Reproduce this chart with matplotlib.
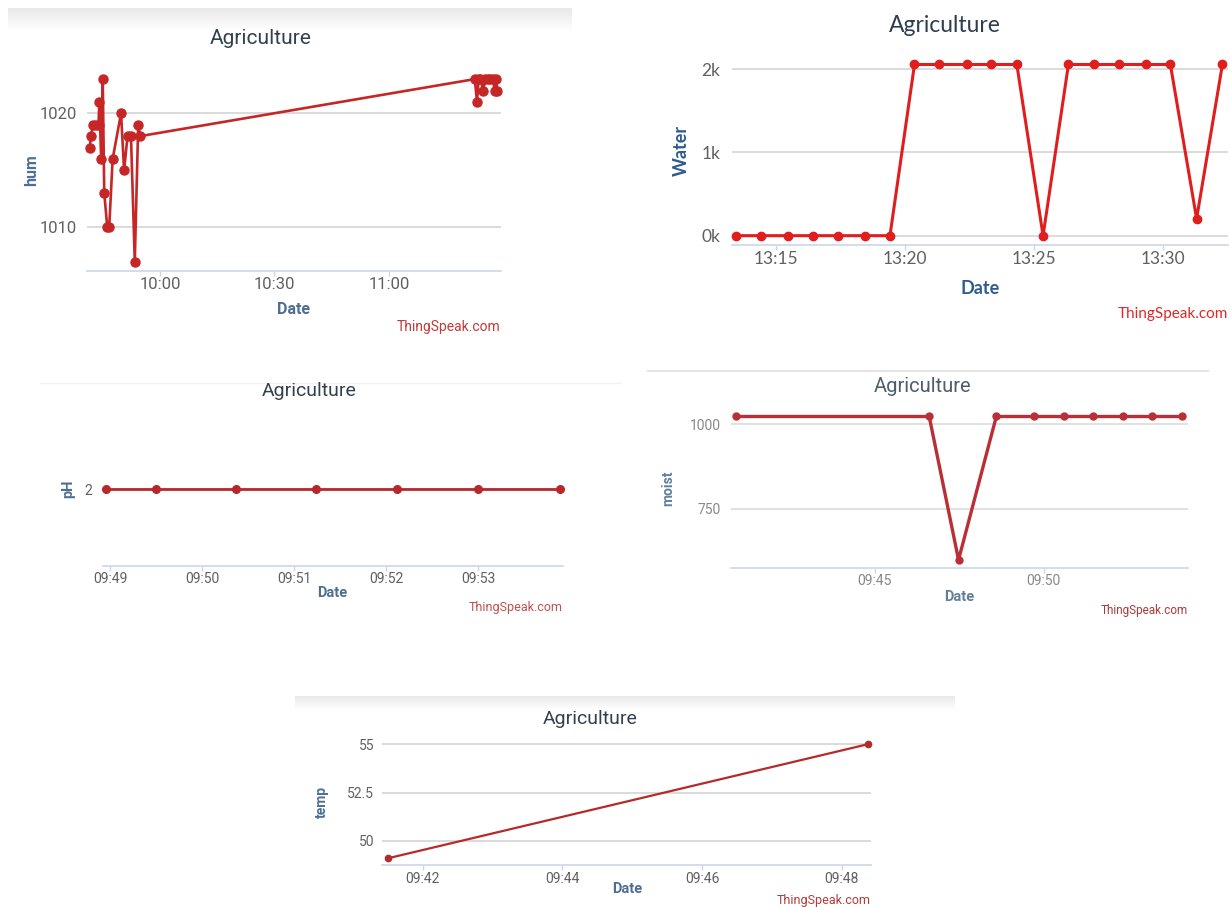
import numpy as np
import matplotlib
matplotlib.use('Agg')
import matplotlib.pyplot as plt
import matplotlib.dates as mdates
from matplotlib.ticker import FuncFormatter

W, H = 1230, 907
DAY = '2020-01-01T'

# panel 1: hum
hum_times = ['09:41:36', '09:41:54', '09:42:30', '09:43:12', '09:43:54', '09:44:06',
             '09:44:36', '09:45:00', '09:45:24', '09:46:12', '09:46:42', '09:47:36',
             '09:49:48', '09:50:36', '09:51:30', '09:52:24', '09:53:24', '09:54:18',
             '09:54:48',
             '11:22:30', '11:23:06', '11:23:30', '11:24:00', '11:24:42', '11:25:18',
             '11:26:00', '11:26:36', '11:27:18', '11:27:42', '11:28:06', '11:28:24']
hum_values = [1017, 1018, 1019, 1019, 1019, 1021, 1016, 1023, 1013, 1010, 1010, 1016,
              1020, 1015, 1018, 1018, 1007, 1019, 1018,
              1023, 1021, 1023, 1023, 1022, 1023, 1023, 1023, 1023, 1022, 1023, 1022]

# panel 2: Water
water_times = ['13:13:27', '13:14:25', '13:15:27', '13:16:26', '13:17:24', '13:18:26',
               '13:19:25', '13:20:22', '13:21:20', '13:22:23', '13:23:21', '13:24:20',
               '13:25:21', '13:26:20', '13:27:20', '13:28:17', '13:29:20', '13:30:17',
               '13:31:18', '13:32:18']
water_values = [0, 0, 0, 0, 0, 0, 0, 2055, 2055, 2055, 2055, 2055,
                0, 2055, 2055, 2055, 2055, 2055, 204, 2055]

# panel 3: pH
ph_times = ['09:48:57', '09:49:30', '09:50:22', '09:51:14', '09:52:07', '09:53:00', '09:53:53']
ph_values = [2, 2, 2, 2, 2, 2, 2]

# panel 4: moist
moist_times = ['09:40:55', '09:46:37', '09:47:29', '09:48:36', '09:49:43', '09:50:36',
               '09:51:28', '09:52:21', '09:53:12', '09:54:05']
moist_values = [1023, 1023, 600, 1023, 1023, 1023, 1023, 1023, 1023, 1023]

# panel 5: temp
temp_times = ['09:41:30', '09:48:22']
temp_values = [49.1, 55.0]


def tt(lst):
    return np.array([DAY + s for s in lst], dtype='datetime64[s]')


fig = plt.figure(figsize=(W / 100, H / 100), dpi=100)
fig.patch.set_facecolor('white')

# card edges / shadows behind the screenshots
bg = fig.add_axes([0, 0, 1, 1], zorder=-10)
bg.set_xlim(0, W)
bg.set_ylim(H, 0)
bg.axis('off')
grad = np.linspace(0.91, 1.0, 40).reshape(-1, 1)
bg.imshow(grad, cmap='gray', vmin=0, vmax=1, extent=[8, 572, 32, 8], aspect='auto')
bg.imshow(grad, cmap='gray', vmin=0, vmax=1, extent=[295, 955, 710, 696], aspect='auto')
bg.plot([40, 620], [383, 383], color='#f2f2f2', lw=1)
bg.plot([648, 1208], [371, 371], color='#e4e4e4', lw=1.5)
bg.set_xlim(0, W)
bg.set_ylim(H, 0)


def box(x0, y0, x1, y1):
    return fig.add_axes([x0 / W, 1 - y1 / H, (x1 - x0) / W, (y1 - y0) / H])


def ftext(x, y, s, **kw):
    fig.text(x / W, 1 - y / H, s, **kw)


def style(ax, font, size, ypad, xpad, tcol='#606060', gcol='#d4d4d4'):
    for s in ['left', 'right', 'top']:
        ax.spines[s].set_visible(False)
    ax.spines['bottom'].set_color('#ccd6eb')
    ax.spines['bottom'].set_linewidth(1.2)
    ax.grid(axis='y', color=gcol, lw=1.2)
    ax.set_axisbelow(True)
    ax.tick_params(axis='y', length=0, pad=ypad, labelsize=size, labelcolor=tcol,
                   labelfontfamily=font)
    ax.tick_params(axis='x', length=3.6, width=1, color='#ccd6eb', pad=xpad,
                   labelsize=size, labelcolor=tcol, labelfontfamily=font)
    ax.set_facecolor('none')


NARROW = ['Liberation Sans Narrow', 'Roboto']
LATO = ['Lato', 'DejaVu Sans']
ROBO = ['Roboto', 'DejaVu Sans']
HM = mdates.DateFormatter('%H:%M')

# ---- panel 1: hum
ax1 = box(86.7, 66, 500.7, 270.7)
ax1.plot(tt(hum_times), hum_values, color='#c62626', lw=1.9, marker='o', ms=6.5,
         clip_on=False)
ax1.set_xlim(tt(['09:40:48', '11:29:18']))
ax1.set_ylim(1006.2, 1024.15)
ax1.set_yticks([1010, 1020])
ax1.xaxis.set_major_locator(mdates.MinuteLocator(byminute=[0, 30]))
ax1.xaxis.set_major_formatter(HM)
style(ax1, NARROW, 12, 6.8, 1)
ftext(261, 38.3, 'Agriculture', ha='center', va='center', fontsize=15,
      family=NARROW, color='#34404f')
ftext(31.5, 170, 'hum', ha='center', va='center', rotation=90, fontsize=11.5,
      fontweight='bold', family=NARROW, color='#4d6f94')
ftext(294, 309, 'Date', ha='center', va='center', fontsize=11.5,
      fontweight='bold', family=NARROW, color='#4d6f94')
ftext(500.7, 327.3, 'ThingSpeak.com', ha='right', va='center', fontsize=10,
      family=NARROW, color='#c23b3b')

# ---- panel 2: Water
ax2 = box(731.7, 60, 1228, 245)
ax2.plot(tt(water_times), water_values, color='#e01e1e', lw=2.2, marker='o', ms=6,
         clip_on=False)
ax2.set_xlim(tt(['13:13:17', '13:32:31']))
ax2.set_ylim(-112, 2109)
ax2.set_yticks([0, 1000, 2000])
ax2.yaxis.set_major_formatter(FuncFormatter(lambda v, p: f'{v / 1000:.0f}k'))
ax2.xaxis.set_major_locator(mdates.MinuteLocator(byminute=range(0, 60, 5)))
ax2.xaxis.set_major_formatter(HM)
style(ax2, LATO, 12.5, 8.4, 1)
ftext(945, 25, 'Agriculture', ha='center', va='center', fontsize=16.5,
      family=LATO, color='#2e3d50')
ftext(681, 150, 'Water', ha='center', va='center', rotation=90, fontsize=13,
      fontweight='bold', family=LATO, color='#2d5b8e')
ftext(980, 289, 'Date', ha='center', va='center', fontsize=13,
      fontweight='bold', family=LATO, color='#2d5b8e')
ftext(1228, 314, 'ThingSpeak.com', ha='right', va='center', fontsize=11,
      family=LATO, color='#e02828')

# ---- panel 3: pH
ax3 = box(102.6, 413, 562.6, 565.7)
ax3.plot(tt(ph_times), ph_values, color='#b8282b', lw=2.0, marker='o', ms=5.5,
         clip_on=False)
ax3.set_xlim(tt(['09:48:55', '09:53:55']))
ax3.set_ylim(1, 3)
ax3.set_yticks([2])
ax3.xaxis.set_major_locator(mdates.MinuteLocator())
ax3.xaxis.set_major_formatter(HM)
style(ax3, ROBO, 10, 7.8, 1)
ftext(309, 391, 'Agriculture', ha='center', va='center', fontsize=14,
      family=ROBO, color='#34404f')
ftext(68, 489, 'pH', ha='center', va='center', rotation=90, fontsize=10.5,
      fontweight='bold', family=ROBO, color='#4d6f94')
ftext(332, 593, 'Date', ha='center', va='center', fontsize=10.5,
      fontweight='bold', family=ROBO, color='#4d6f94')
ftext(562.6, 607.7, 'ThingSpeak.com', ha='right', va='center', fontsize=9,
      family=ROBO, color='#c0504d')

# ---- panel 4: moist
ax4 = box(730.7, 400, 1187.5, 567.7)
ax4.plot(tt(moist_times), moist_values, color='#b83036', lw=2.4, marker='o', ms=5,
         clip_on=False)
ax4.set_xlim(tt(['09:40:45', '09:54:15']))
ax4.set_ylim(576.7, 1071.7)
ax4.set_yticks([750, 1000])
ax4.xaxis.set_major_locator(mdates.MinuteLocator(byminute=range(0, 60, 5)))
ax4.xaxis.set_major_formatter(HM)
style(ax4, ROBO, 10, 7.2, 1, tcol='#888888', gcol='#dcdcdc')
ftext(923, 386.7, 'Agriculture', ha='center', va='center', fontsize=14.5,
      family=ROBO, color='#4f5d6c')
ftext(668, 488, 'moist', ha='center', va='center', rotation=90, fontsize=10,
      fontweight='bold', family=ROBO, color='#607f9e')
ftext(959, 596.7, 'Date', ha='center', va='center', fontsize=10.5,
      fontweight='bold', family=ROBO, color='#607f9e')
ftext(1187.5, 610.7, 'ThingSpeak.com', ha='right', va='center', fontsize=8.5,
      family=ROBO, color='#a83a3a')

# ---- panel 5: temp
ax5 = box(381.9, 730, 871, 865.3)
ax5.plot(tt(temp_times), temp_values, color='#b52a2a', lw=1.6, marker='o', ms=4.5,
         clip_on=False)
ax5.set_xlim(tt(['09:41:25', '09:48:25']))
ax5.set_ylim(48.74, 55.74)
ax5.set_yticks([50, 52.5, 55])
ax5.yaxis.set_major_formatter(FuncFormatter(lambda v, p: f'{v:g}'))
ax5.xaxis.set_major_locator(mdates.MinuteLocator(byminute=range(0, 60, 2)))
ax5.xaxis.set_major_formatter(HM)
style(ax5, ROBO, 10, 5.7, 1)
ftext(590.4, 719.3, 'Agriculture', ha='center', va='center', fontsize=14,
      family=ROBO, color='#34404f')
ftext(322, 801.7, 'temp', ha='center', va='center', rotation=90, fontsize=10,
      fontweight='bold', family=ROBO, color='#4d6f94')
ftext(627.6, 889, 'Date', ha='center', va='center', fontsize=10.5,
      fontweight='bold', family=ROBO, color='#4d6f94')
ftext(871, 900.7, 'ThingSpeak.com', ha='right', va='center', fontsize=9,
      family=ROBO, color='#b33a3a')

fig.savefig('out.png', dpi=100, facecolor='white')
